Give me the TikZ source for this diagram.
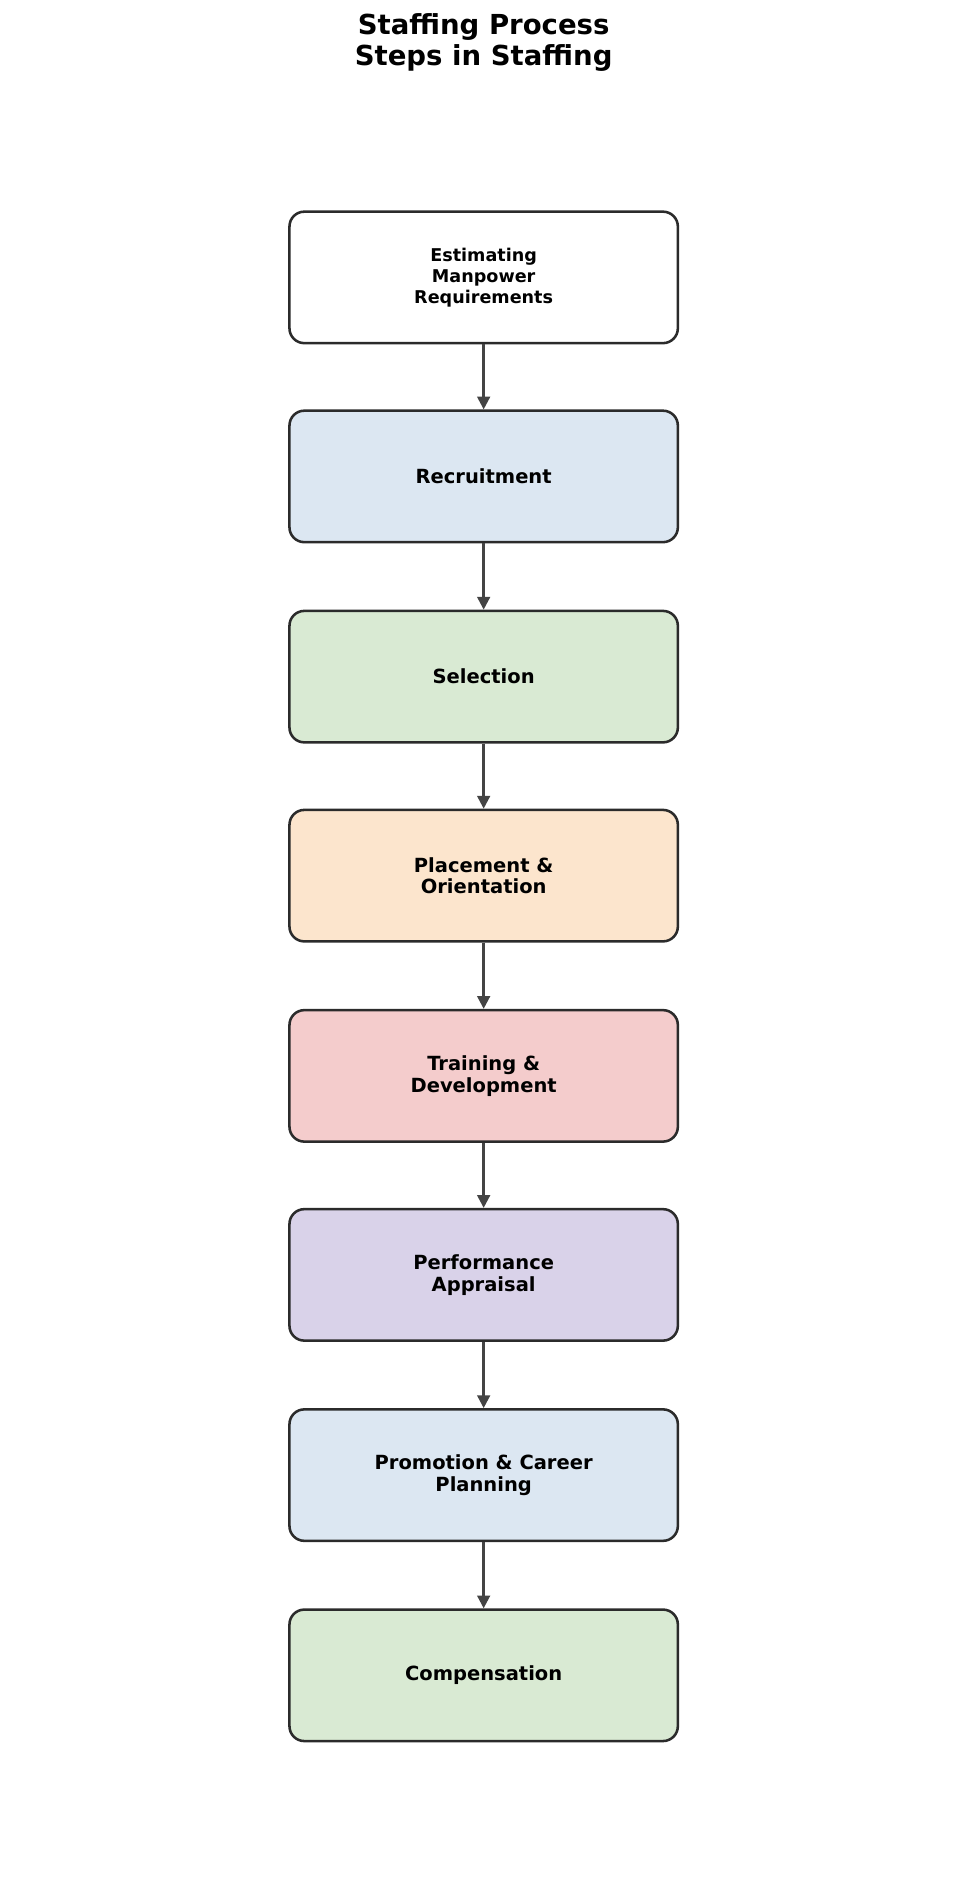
\documentclass[tikz,border=0pt]{standalone}
\usepackage{fontspec}
\setmainfont{DejaVu Sans}
\usetikzlibrary{arrows.meta}
\definecolor{cb}{HTML}{DCE7F2}
\definecolor{cg}{HTML}{D9EAD3}
\definecolor{co}{HTML}{FCE5CD}
\definecolor{cr}{HTML}{F4CCCC}
\definecolor{cp}{HTML}{D9D2E9}
\definecolor{ed}{HTML}{2B2B2B}
\definecolor{ar}{HTML}{444444}
\begin{document}
\begin{tikzpicture}[x=0.02cm,y=-0.02cm,
 box/.style={draw=ed,line width=1.2pt,rounded corners=7pt,minimum width=322*0.02cm,minimum height=109*0.02cm,align=center,font=\bfseries\fontsize{9.2}{10.3}\selectfont},
 arr/.style={draw=ar,line width=1.1pt,-{Triangle[length=6pt,width=6pt]}}]
\useasboundingbox (0,0) rectangle (800,1567);
\node[font=\bfseries\fontsize{13}{14.5}\selectfont,align=center] (t) at (401,35) {Staffing Process\\Steps in Staffing};
\node[box,fill=white,font=\bfseries\fontsize{8.3}{9.9}\selectfont] (b1) at (401,230) {Estimating\\Manpower\\Requirements};
\node[box,fill=cb] (b2) at (401,395) {Recruitment};
\node[box,fill=cg] (b3) at (401,561) {Selection};
\node[box,fill=co] (b4) at (401,726) {Placement \&\\Orientation};
\node[box,fill=cr] (b5) at (401,892) {Training \&\\Development};
\node[box,fill=cp] (b6) at (401,1057) {Performance\\Appraisal};
\node[box,fill=cb] (b7) at (401,1223) {Promotion \& Career\\Planning};
\node[box,fill=cg] (b8) at (401,1389) {Compensation};
\foreach \a/\b in {b1/b2,b2/b3,b3/b4,b4/b5,b5/b6,b6/b7,b7/b8}
 \draw[arr] (\a) -- (\b);
\end{tikzpicture}
\end{document}
